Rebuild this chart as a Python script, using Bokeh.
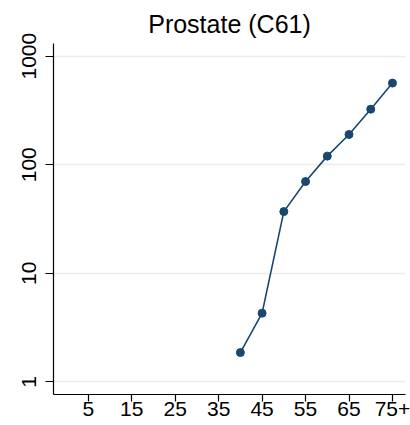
from bokeh.plotting import figure
from bokeh.models import FixedTicker, Range1d, ColumnDataSource
from bokeh.embed import file_html
from bokeh.resources import INLINE

# Data
ages = [40, 45, 50, 55, 60, 65, 70, 75]
rates = [1.86, 4.29, 37, 70, 120, 190, 325, 565]
x_ticks = [5, 15, 25, 35, 45, 55, 65, 75]
x_tick_labels = ["5", "15", "25", "35", "45", "55", "65", "75+"]
y_ticks = [1, 10, 100, 1000]
title_text = "Prostate (C61)"

NAVY = "#1a476f"
FONT = "Liberation Sans"

src = ColumnDataSource(dict(x=ages, y=rates))

p = figure(width=410, height=425, y_axis_type="log",
           x_range=Range1d(-3, 78), y_range=Range1d(0.764, 1309),
           output_backend="svg", toolbar_location=None,
           min_border_left=53, min_border_right=5,
           min_border_top=43, min_border_bottom=31,
           title=title_text)

p.line("x", "y", source=src, line_color=NAVY, line_width=1.6)
p.scatter("x", "y", source=src, size=8, fill_color=NAVY, line_color=NAVY)

p.title.align = "center"
p.title.text_font = FONT
p.title.text_font_size = "25px"
p.title.text_font_style = "normal"
p.title.text_color = "black"
p.title.standoff = 12

p.outline_line_color = None
p.background_fill_color = "white"
p.border_fill_color = "white"

p.xgrid.visible = False
p.ygrid.grid_line_color = "#ececec"
p.ygrid.grid_line_width = 1.5

p.xaxis.ticker = FixedTicker(ticks=x_ticks)
p.xaxis.major_label_overrides = {t: l for t, l in zip(x_ticks, x_tick_labels)}
p.yaxis.ticker = FixedTicker(ticks=y_ticks, minor_ticks=[])
p.yaxis.major_label_overrides = {t: str(t) for t in y_ticks}

for ax in (p.xaxis[0], p.yaxis[0]):
    ax.axis_line_color = "black"
    ax.axis_line_width = 1.2
    ax.major_tick_line_color = "black"
    ax.major_tick_line_width = 1.2
    ax.major_tick_in = 0
    ax.minor_tick_line_color = None
    ax.major_label_text_font = FONT
    ax.major_label_text_font_size = "21px"
    ax.major_label_text_color = "black"

p.xaxis.major_tick_out = 7
p.yaxis.major_tick_out = 8
p.xaxis.major_label_standoff = 0
p.xaxis.major_label_text_line_height = 0.7
p.yaxis.major_label_standoff = 9
p.yaxis.major_label_orientation = "parallel"

open("out.html", "w").write(file_html(p, INLINE))
